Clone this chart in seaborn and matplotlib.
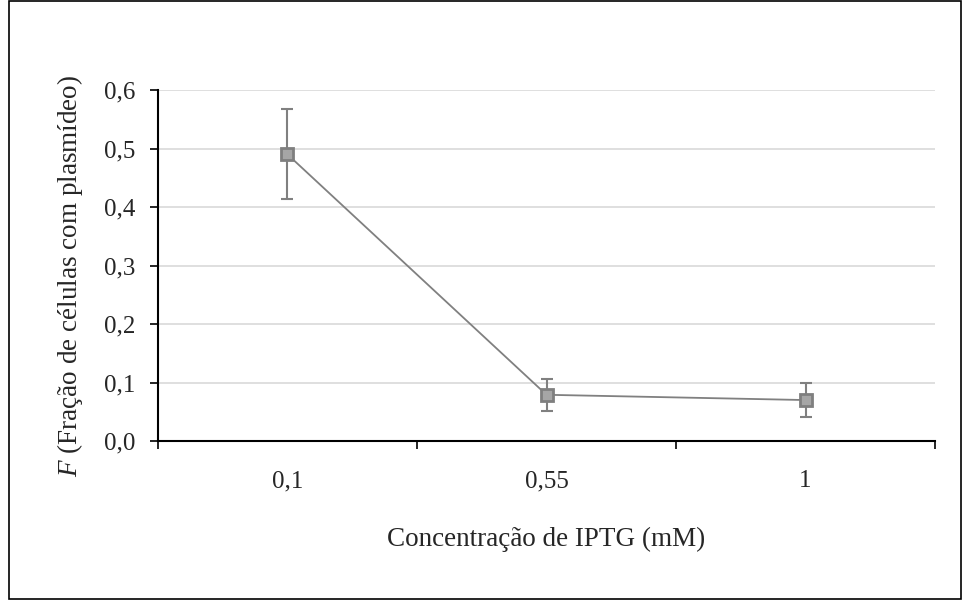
import pandas as pd
import matplotlib.pyplot as plt
import matplotlib.patches as patches
import seaborn as sns

# Data
iptg_labels = ['0,1', '0,55', '1']
fraction = [0.49, 0.079, 0.07]
fraction_err = [0.077, 0.027, 0.029]
y_ticks = [0.0, 0.1, 0.2, 0.3, 0.4, 0.5, 0.6]

sns.set_style('white')
plt.rcParams['font.family'] = ['Liberation Serif', 'DejaVu Serif']
plt.rcParams['mathtext.fontset'] = 'custom'
plt.rcParams['mathtext.rm'] = 'Liberation Serif'
plt.rcParams['mathtext.it'] = 'Liberation Serif:italic'

df = pd.DataFrame({'pos': range(len(iptg_labels)), 'F': fraction, 'err': fraction_err})

fig = plt.figure(figsize=(9.63, 6), dpi=100)
ax = fig.add_axes([0.164, 0.265, 0.807, 0.585])

line_col = '#808080'
ax.errorbar(df['pos'], df['F'], yerr=df['err'], fmt='none', ecolor=line_col,
            elinewidth=1.5, capsize=4, capthick=1.5, zorder=2)
sns.lineplot(data=df, x='pos', y='F', ax=ax, color=line_col, linewidth=1.3,
             marker='s', markersize=9, markerfacecolor='#a6a6a6',
             markeredgecolor='#7f7f7f', markeredgewidth=2, zorder=3)

ax.set_xlim(-0.5, len(iptg_labels) - 0.5)
ax.set_ylim(0, 0.6)
ax.set_yticks(y_ticks)
ax.set_yticklabels([f'{v:.1f}'.replace('.', ',') for v in y_ticks], fontsize=18)
ax.set_xticks([i - 0.5 for i in range(len(iptg_labels) + 1)])
ax.set_xticklabels([])
ax.set_xticks(range(len(iptg_labels)), minor=True)
ax.set_xticklabels(iptg_labels, minor=True, fontsize=18)
ax.tick_params(axis='x', which='minor', length=0, pad=21)
ax.tick_params(axis='both', which='major', direction='out', length=6, width=1.2,
               color='black', bottom=True, left=True)
ax.tick_params(axis='y', pad=10)

ax.yaxis.grid(True, color='#d9d9d9', linewidth=1.2)
ax.xaxis.grid(False)
ax.set_axisbelow(True)
for s in ['top', 'right']:
    ax.spines[s].set_visible(False)
for s in ['left', 'bottom']:
    ax.spines[s].set_color('black')
    ax.spines[s].set_linewidth(1.5)

ax.set_xlabel('Concentração de IPTG (mM)', fontsize=19.5, labelpad=25)
ax.set_ylabel(r'$F$ (Fração de células com plasmídeo)', fontsize=19.5, labelpad=14)
ax.yaxis.label.set_y(0.47)

fig.patches.append(patches.Rectangle((0.009, 0.002), 0.989, 0.996, transform=fig.transFigure,
                                     fill=False, edgecolor='black', linewidth=1.2))

fig.savefig('out.png', dpi=100)
